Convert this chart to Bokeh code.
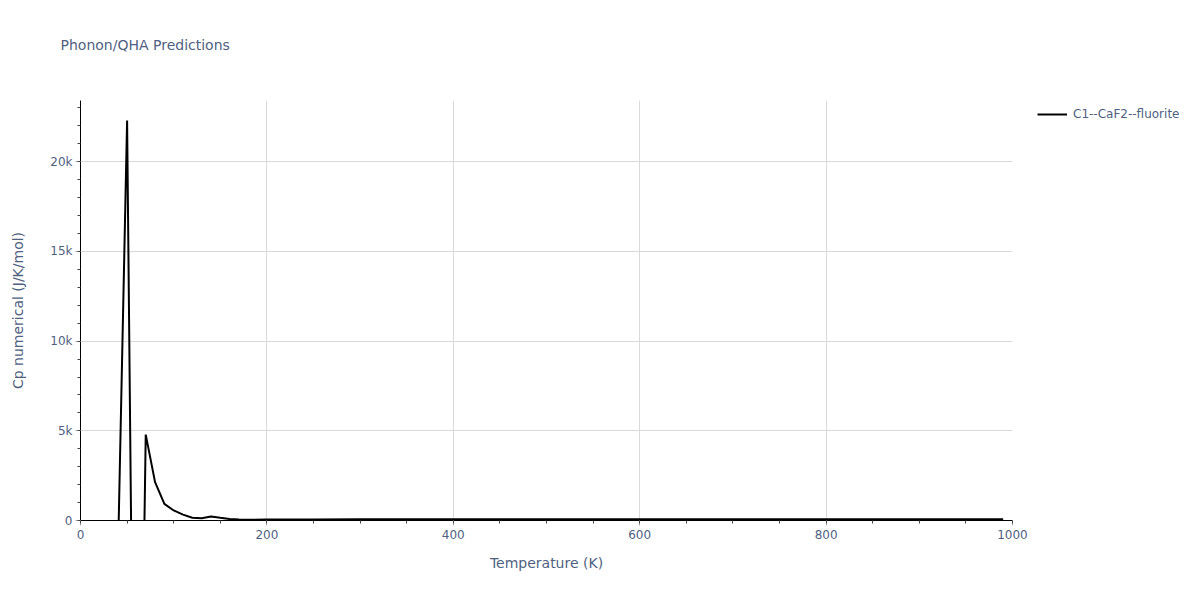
from bokeh.plotting import figure
from bokeh.models import Range1d, FixedTicker, Legend, LegendItem, Title
from bokeh.embed import file_html
from bokeh.resources import INLINE

# data
temperature = [40, 50, 60, 70, 80, 90, 100, 110, 120, 130, 140, 150, 160, 170, 180,
               200, 250, 300, 350, 400, 450, 500, 550, 600, 650, 700, 750, 800, 850, 900, 950, 990]
cp_numerical = [-2500, 22300, -30000, 4790, 2140, 930, 560, 330, 150, 130, 220, 150, 90, 50, 45,
                50, 58, 63, 66, 68, 70, 71, 72, 72, 73, 73, 74, 74, 74, 75, 75, 75]
series_name = "C1--CaF2--fluorite"
chart_title = "Phonon/QHA Predictions"
x_ticks = [0, 200, 400, 600, 800, 1000]
x_minor = [v for v in range(0, 1001, 50)]
y_ticks = [0, 5000, 10000, 15000, 20000]
y_tick_labels = ["0", "5k", "10k", "15k", "20k"]
y_minor = [v for v in range(0, 23001, 1000)]

FONT = "DejaVu Sans"
TXT = "#4f5f7f"

p = figure(frame_width=932, frame_height=420,
           min_border_left=80, min_border_right=172, min_border_top=100, min_border_bottom=64,
           x_range=Range1d(0, 1000), y_range=Range1d(0, 23415),
           output_backend="svg", toolbar_location=None)
p.outline_line_color = None
p.background_fill_color = "white"

# trailing blank line lifts the title within the top border
t = Title(text=chart_title + "\n ", text_font=FONT, text_font_size="14px",
          text_color=TXT, text_font_style="normal", align="left", offset=-20,
          vertical_align="top", standoff=60)
p.add_layout(t, "above")

r = p.line(temperature, cp_numerical, line_color="black", line_width=2)

for ax in (p.xaxis[0], p.yaxis[0]):
    ax.axis_line_color = "black"
    ax.axis_line_width = 1
    ax.major_tick_line_color = "#aaaaaa"
    ax.minor_tick_line_color = "#444444"
    ax.major_tick_out = 5
    ax.major_tick_in = 0
    ax.minor_tick_out = 3
    ax.minor_tick_in = 0
    ax.major_label_text_font = FONT
    ax.major_label_text_font_size = "12px"
    ax.major_label_text_color = TXT
    ax.axis_label_text_font = FONT
    ax.axis_label_text_font_size = "14px"
    ax.axis_label_text_color = TXT
    ax.axis_label_text_font_style = "normal"

p.xaxis.ticker = FixedTicker(ticks=x_ticks, minor_ticks=x_minor)
p.yaxis.ticker = FixedTicker(ticks=y_ticks, minor_ticks=y_minor)
p.yaxis.major_label_overrides = {k: v for k, v in zip(y_ticks, y_tick_labels)}
p.xaxis.axis_label = "Temperature (K)"
p.yaxis.axis_label = "Cp numerical (J/K/mol)"
p.xaxis.major_label_standoff = 4
p.yaxis.major_label_standoff = 3
p.xaxis.axis_label_standoff = 13
p.yaxis.axis_label_standoff = 21

p.xgrid.ticker = FixedTicker(ticks=x_ticks[1:])
p.ygrid.ticker = FixedTicker(ticks=y_ticks[1:])
p.grid.grid_line_color = "#d9d9d9"
p.grid.grid_line_width = 1

legend = Legend(items=[LegendItem(label=series_name, renderers=[r])],
                location=(25, 396), padding=0, margin=0, glyph_width=30, glyph_height=20,
                label_standoff=6, border_line_alpha=0, background_fill_alpha=0,
                label_text_font=FONT, label_text_font_size="12px", label_text_color=TXT)
p.add_layout(legend, "right")

open("out.html", "w").write(file_html(p, INLINE))
